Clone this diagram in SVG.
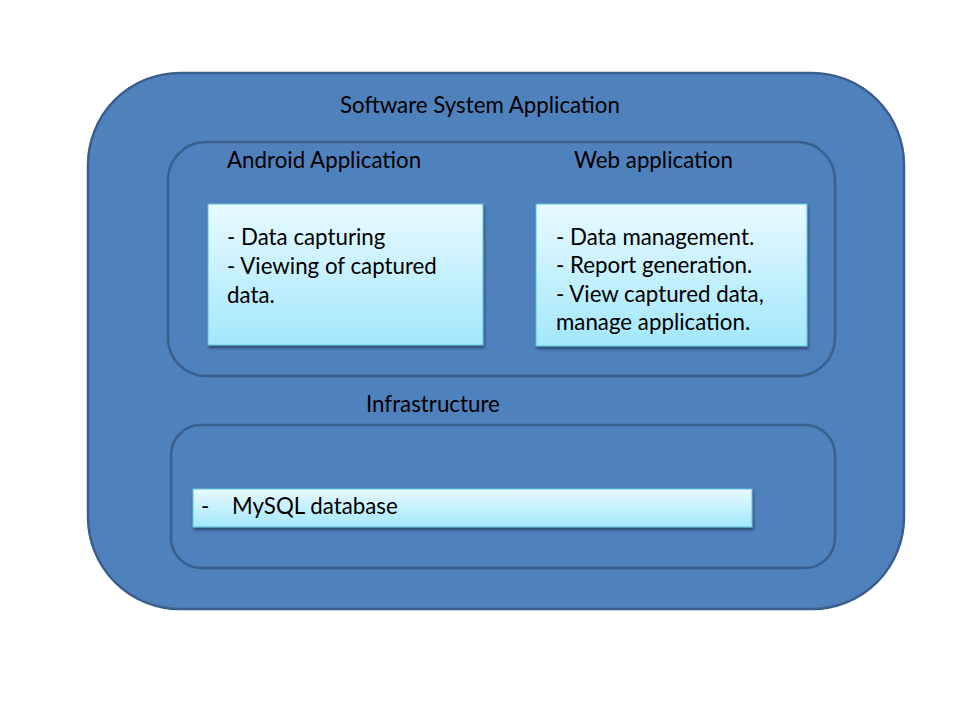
<svg xmlns="http://www.w3.org/2000/svg" width="960" height="720" viewBox="0 0 960 720">
<defs>
<linearGradient id="boxg" x1="0" y1="0" x2="0" y2="1">
<stop offset="0" stop-color="#E8FAFF"/>
<stop offset="1" stop-color="#A3E7FB"/>
</linearGradient>
<filter id="sh" x="-10%" y="-10%" width="130%" height="140%">
<feDropShadow dx="1" dy="2.5" stdDeviation="1.5" flood-color="#000" flood-opacity="0.45"/>
</filter>
</defs>
<style>
.cont{fill:#4F81BD;stroke:#3A5F8C;stroke-width:2.5}
.box{fill:url(#boxg);stroke:#5FC3DC;stroke-width:1;filter:url(#sh)}
text{font-family:Lato,"Open Sans","Liberation Sans",sans-serif;font-size:22.3px;fill:#000}
</style>
<rect width="960" height="720" fill="#fff"/>
<g id="system">
<rect class="cont" x="88" y="73" width="816" height="536" rx="92" ry="92"/>
<text x="340" y="113">Software System Application</text>
</g>
<g id="applications">
<rect class="cont" x="168" y="142" width="667" height="234" rx="38" ry="38"/>
</g>
<g id="android">
<text x="227" y="168">Android Application</text>
<rect class="box" x="208" y="204" width="275" height="141"/>
<text x="227" y="245">- Data capturing</text>
<text x="227" y="274">- Viewing of captured</text>
<text x="227" y="303">data.</text>
</g>
<g id="web">
<text x="574" y="168">Web application</text>
<rect class="box" x="536" y="204" width="271" height="142"/>
<text x="556" y="245">- Data management.</text>
<text x="556" y="273">- Report generation.</text>
<text x="556" y="302">- View captured data,</text>
<text x="556" y="330">manage application.</text>
</g>
<g id="infrastructure">
<text x="366" y="412">Infrastructure</text>
<rect class="cont" x="171" y="425" width="664" height="143" rx="30" ry="30"/>
</g>
<g id="mysql">
<rect class="box" x="193" y="489" width="559" height="38"/>
<text x="201" y="514">-</text>
<text x="232" y="514">MySQL database</text>
</g>
<g id="connectors"/>
</svg>
